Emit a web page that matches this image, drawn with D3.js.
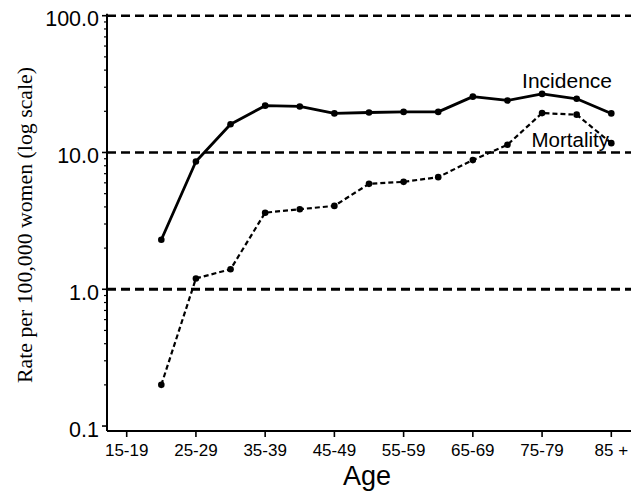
<!DOCTYPE html>
<html>
<head>
<meta charset="utf-8">
<script src="https://cdn.jsdelivr.net/npm/d3@7"></script>
<style>
  html, body { margin: 0; padding: 0; background: #fff; }
  svg { display: block; }
</style>
</head>
<body>
<svg id="chart" width="639" height="492"></svg>
<script>
// Age groups (five-year bands)
const ageGroups = ["15-19","20-24","25-29","30-34","35-39","40-44","45-49","50-54",
                   "55-59","60-64","65-69","70-74","75-79","80-84","85 +"];
// Labelled x ticks
const ageTickLabels = ["15-19","25-29","35-39","45-49","55-59","65-69","75-79","85 +"];
// Rates per 100,000 women (null = not shown)
const incidence = [null, 2.3, 8.6, 16.1, 22.0, 21.7, 19.3, 19.6, 19.8, 19.8, 25.6, 24.0, 26.8, 24.7, 19.3];
const mortality = [null, 0.2, 1.2, 1.4, 3.63, 3.85, 4.07, 5.9, 6.1, 6.6, 8.8, 11.4, 19.4, 18.9, 11.7];
// Major y ticks
const yTickValues = [0.1, 1, 10, 100];
const gridValues = [1, 10, 100];

const svg = d3.select("#chart");
const font = "'Liberation Sans', Arial, Helvetica, sans-serif";

const x = d3.scalePoint().domain(ageGroups).range([126.7, 611.3]);
const y = d3.scaleLog().domain([0.092, 100]).range([431, 15.7]);

const axisLeftX = 107, axisRightX = 631, axisBottomY = 431;

// Dashed reference lines at the decades
svg.append("g").selectAll("line").data(gridValues).join("line")
  .attr("x1", axisLeftX).attr("x2", axisRightX)
  .attr("y1", d => y(d)).attr("y2", d => y(d))
  .attr("stroke", "#000")
  .attr("stroke-width", d => d === 1 ? 3 : 2.6)
  .attr("stroke-dasharray", "9,5");

// Y axis (log scale with minor ticks)
const minor = [];
for (let p = -1; p < 2; p++) for (let m = 2; m <= 9; m++) minor.push(m * Math.pow(10, p));
const yAxisG = svg.append("g");
yAxisG.append("line")
  .attr("x1", axisLeftX).attr("x2", axisLeftX)
  .attr("y1", y(100) - 2).attr("y2", axisBottomY)
  .attr("stroke", "#000").attr("stroke-width", 2);
yAxisG.selectAll(".minor").data(minor).join("line")
  .attr("class", "minor")
  .attr("x1", axisLeftX - 3).attr("x2", axisLeftX)
  .attr("y1", d => y(d)).attr("y2", d => y(d))
  .attr("stroke", "#000").attr("stroke-width", 1.2);
yAxisG.selectAll(".major").data(yTickValues).join("line")
  .attr("class", "major")
  .attr("x1", axisLeftX - 5).attr("x2", axisLeftX)
  .attr("y1", d => y(d)).attr("y2", d => y(d))
  .attr("stroke", "#000").attr("stroke-width", 1.6);
yAxisG.selectAll("text").data(yTickValues).join("text")
  .attr("x", axisLeftX - 8)
  .attr("y", d => y(d) + 10.5)
  .attr("text-anchor", "end")
  .attr("font-family", font)
  .attr("font-size", 21.5)
  .text(d => d3.format(".1f")(d));

// X axis
const xAxisG = svg.append("g").attr("transform", `translate(0,${axisBottomY})`);
xAxisG.append("line")
  .attr("x1", axisLeftX).attr("x2", axisRightX)
  .attr("y1", 0).attr("y2", 0)
  .attr("stroke", "#000").attr("stroke-width", 2);
xAxisG.selectAll(".tick").data(ageTickLabels).join("line")
  .attr("class", "tick")
  .attr("x1", d => x(d)).attr("x2", d => x(d))
  .attr("y1", 0).attr("y2", 6)
  .attr("stroke", "#000").attr("stroke-width", 1.6);
xAxisG.selectAll("text").data(ageTickLabels).join("text")
  .attr("x", d => x(d))
  .attr("y", 25)
  .attr("text-anchor", "middle")
  .attr("font-family", font)
  .attr("font-size", 17)
  .text(d => d);

// Axis titles
svg.append("text")
  .attr("x", 367).attr("y", 485)
  .attr("text-anchor", "middle")
  .attr("font-family", font)
  .attr("font-size", 27)
  .text("Age");
svg.append("text")
  .attr("transform", "translate(32,225) rotate(-90)")
  .attr("text-anchor", "middle")
  .attr("font-family", "'Liberation Serif', 'Times New Roman', serif")
  .attr("font-size", 21.8)
  .text("Rate per 100,000 women (log scale)");

// Series lines
const line = d3.line()
  .defined(d => d.v != null)
  .x(d => x(d.age))
  .y(d => y(d.v));
const incData = ageGroups.map((a, i) => ({ age: a, v: incidence[i] }));
const morData = ageGroups.map((a, i) => ({ age: a, v: mortality[i] }));

svg.append("path").datum(incData)
  .attr("d", line)
  .attr("fill", "none").attr("stroke", "#000")
  .attr("stroke-width", 2.8).attr("stroke-linejoin", "round");
svg.append("g").selectAll("circle").data(incData.filter(d => d.v != null)).join("circle")
  .attr("cx", d => x(d.age)).attr("cy", d => y(d.v)).attr("r", 3.3).attr("fill", "#000");

svg.append("path").datum(morData)
  .attr("d", line)
  .attr("fill", "none").attr("stroke", "#000")
  .attr("stroke-width", 2.2).attr("stroke-dasharray", "5,3");
svg.append("g").selectAll("circle").data(morData.filter(d => d.v != null)).join("circle")
  .attr("cx", d => x(d.age)).attr("cy", d => y(d.v)).attr("r", 3.3).attr("fill", "#000");

// Series labels
svg.append("text")
  .attr("x", 612).attr("y", 88)
  .attr("text-anchor", "end")
  .attr("font-family", font).attr("font-size", 21)
  .text("Incidence");
svg.append("text")
  .attr("x", 609).attr("y", 147)
  .attr("text-anchor", "end")
  .attr("font-family", font).attr("font-size", 20.5)
  .text("Mortality");
</script>
</body>
</html>
